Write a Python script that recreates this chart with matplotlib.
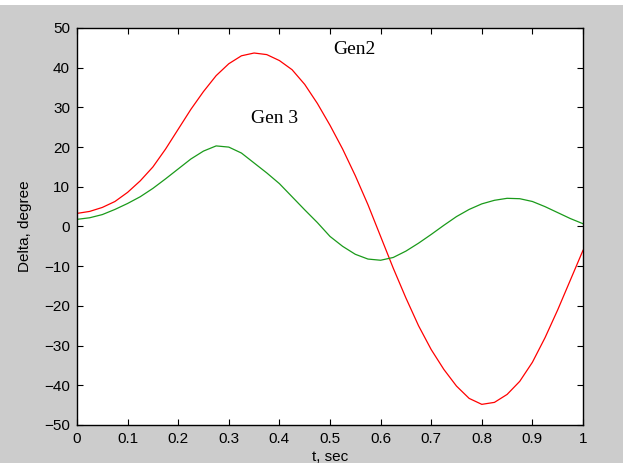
import matplotlib.pyplot as plt
from matplotlib.patches import Rectangle

# rotor angle swing, sampled every 0.025 s
t = [0.0, 0.025, 0.05, 0.075, 0.1, 0.125, 0.15, 0.175, 0.2, 0.225,
     0.25, 0.275, 0.3, 0.325, 0.35, 0.375, 0.4, 0.425, 0.45, 0.475,
     0.5, 0.525, 0.55, 0.575, 0.6, 0.625, 0.65, 0.675, 0.7, 0.725,
     0.75, 0.775, 0.8, 0.825, 0.85, 0.875, 0.9, 0.925, 0.95, 0.975, 1.0]

gen2 = [3.3, 3.8, 4.8, 6.3, 8.6, 11.5, 15.0, 19.5, 24.5, 29.5,
        34.0, 38.0, 41.0, 43.0, 43.7, 43.3, 41.8, 39.5, 35.8, 31.0,
        25.5, 19.5, 12.8, 5.5, -2.5, -10.5, -18.0, -25.0, -31.0, -36.0,
        -40.2, -43.3, -44.8, -44.3, -42.3, -39.0, -34.2, -28.0, -21.0, -13.5, -6.0]

gen3 = [1.8, 2.2, 3.0, 4.3, 5.8, 7.5, 9.6, 12.0, 14.5, 17.0,
        19.0, 20.3, 20.0, 18.5, 16.0, 13.5, 10.8, 7.5, 4.2, 1.0,
        -2.5, -5.0, -7.0, -8.2, -8.5, -7.8, -6.2, -4.2, -2.0, 0.3,
        2.5, 4.3, 5.7, 6.6, 7.1, 7.0, 6.3, 5.0, 3.5, 2.0, 0.7]

xticks = [0, 0.1, 0.2, 0.3, 0.4, 0.5, 0.6, 0.7, 0.8, 0.9, 1]
yticks = [-50, -40, -30, -20, -10, 0, 10, 20, 30, 40, 50]

plt.rcParams['font.family'] = ['Liberation Sans', 'DejaVu Sans']

fig = plt.figure(figsize=(6.23, 4.63), dpi=100, facecolor='#cccccc')
fig.patches.append(Rectangle((0, 1 - 5 / 463), 1, 5 / 463, transform=fig.transFigure,
                             facecolor='white', edgecolor='none', zorder=0))

ax = fig.add_axes([77 / 623, 38 / 463, 506 / 623, 397 / 463])
ax.set_facecolor('white')

ax.plot(t, gen2, color='#ff0000', linewidth=0.9)
ax.plot(t, gen3, color='#1a9a1a', linewidth=0.9)

ax.text(0.506, 44.5, 'Gen2', family='Liberation Serif', fontsize=14, va='center')
ax.text(0.344, 27.1, 'Gen 3', family='Liberation Serif', fontsize=14, va='center')

ax.set_xlim(0, 1)
ax.set_ylim(-50, 50)
ax.set_xticks(xticks)
ax.set_xticklabels([f'{v:g}' for v in xticks])
ax.set_yticks(yticks)
ax.tick_params(direction='in', length=4, width=0.8, top=True, right=True,
               labelsize=11, pad=5)
for s in ax.spines.values():
    s.set_linewidth(1.0)

ax.set_xlabel('t, sec', fontsize=11, labelpad=3)
ax.set_ylabel('Delta, degree', fontsize=11, labelpad=9)

fig.savefig('out.png', dpi=100, facecolor=fig.get_facecolor())
